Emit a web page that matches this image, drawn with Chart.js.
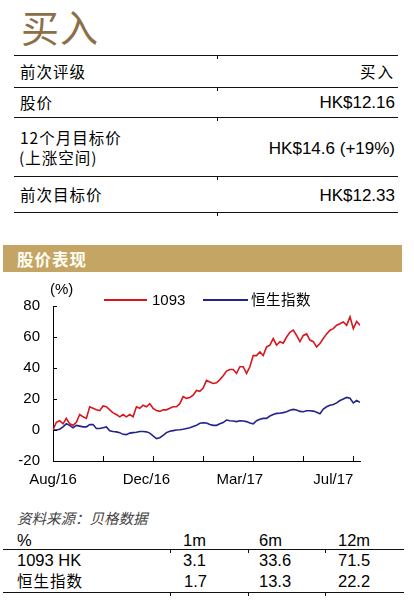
<!DOCTYPE html>
<html lang="zh">
<head>
<meta charset="UTF-8">
<meta name="viewport" content="width=device-width, initial-scale=1">
<title>买入</title>
<script src="https://cdn.jsdelivr.net/npm/chart.js"></script>
<style>
  body {
    margin: 0;
    width: 414px;
    height: 606px;
    position: relative;
    overflow: hidden;
    background: #fff;
    color: #000;
    font-family: "Liberation Sans", Arial, "Noto Sans CJK SC", sans-serif;
  }
  .t {
    position: absolute;
    white-space: nowrap;
    line-height: 1;
    transform: translateY(-50%);
  }
  .cn { font-family: "Noto Sans CJK SC", sans-serif; }
  .rule { position: absolute; height: 1px; background: #111; }
  .mark { position: absolute; width: 1px; height: 3px; background: #111; }
  .title { font-size: 38px; color: #8c6f47; font-weight: 400; letter-spacing: 1px; }
  .row { font-size: 15.5px; letter-spacing: 1px; }
  .num { font-size: 17px; }
  #banner {
    position: absolute; left: 3px; top: 245px; width: 399px; height: 27px;
    background: #c4a564;
  }
  #banner span {
    position: absolute; left: 14px; top: 13.5px; transform: translateY(-50%);
    font-family: "Noto Sans CJK SC", sans-serif; font-weight: 700; font-size: 16.5px;
    color: #fffdf4; letter-spacing: 1px; line-height: 1;
  }
  #chartBox { position: absolute; left: 0; top: 276px; width: 414px; height: 214px; }
  .leg { position: absolute; height: 2px; }
  .src { font-size: 14.5px; font-style: italic; color: #444; }
  .tb { font-size: 16.5px; }
</style>
</head>
<body>
  <!-- header -->
  <div class="t cn title" style="left:21px;top:26px">买入</div>

  <div class="rule" style="left:14px;top:55px;width:384px"></div>
  <div class="t cn row" style="left:20px;top:71.5px">前次评级</div>
  <div class="t cn row" style="right:19px;top:71.5px;letter-spacing:2px">买入</div>

  <div class="rule" style="left:14px;top:87px;width:384px"></div>
  <div class="t cn row" style="left:20px;top:102.5px">股价</div>
  <div class="t num" style="right:19px;top:102px">HK$12.16</div>

  <div class="rule" style="left:14px;top:117px;width:384px"></div>
  <div class="t cn row" style="left:20px;top:137.5px">12个月目标价</div>
  <div class="t cn row" style="left:19px;top:158px">(上涨空间)</div>
  <div class="t num" style="right:19px;top:147.5px">HK$14.6 (+19%)</div>

  <div class="rule" style="left:14px;top:176px;width:384px"></div>
  <div class="t cn row" style="left:20px;top:195px">前次目标价</div>
  <div class="t num" style="right:19px;top:195px">HK$12.33</div>

  <div class="rule" style="left:14px;top:212px;width:384px"></div>
  <div class="mark" style="left:217px;top:56px"></div>
  <div class="mark" style="left:217px;top:88px"></div>
  <div class="mark" style="left:217px;top:118px"></div>
  <div class="mark" style="left:217px;top:177px"></div>
  <div class="mark" style="left:217px;top:213px"></div>

  <!-- section banner -->
  <div id="banner"><span>股价表现</span></div>

  <!-- chart -->
  <div id="chartBox"><canvas id="perfChart"></canvas></div>
  <div class="t" style="left:50px;top:287.5px;font-size:15px">(%)</div>
  <div class="leg" style="left:104px;top:299px;width:43px;background:#d9161d"></div>
  <div class="t" style="left:152px;top:299px;font-size:15px">1093</div>
  <div class="leg" style="left:203px;top:299px;width:45px;background:#23238c"></div>
  <div class="t cn" style="left:251px;top:299px;font-size:14.5px;letter-spacing:0.5px">恒生指数</div>

  <!-- source + returns table -->
  <div class="t cn src" style="left:17px;top:518px">资料来源：贝格数据</div>

  <div class="t tb" style="left:17px;top:540px">%</div>
  <div class="t tb" style="left:183px;top:540px">1m</div>
  <div class="t tb" style="left:259px;top:540px">6m</div>
  <div class="t tb" style="left:338px;top:540px">12m</div>
  <div class="rule" style="left:3px;top:549px;width:401px"></div>
  <div class="t tb" style="left:17px;top:560px">1093 HK</div>
  <div class="t tb" style="left:183px;top:560px">3.1</div>
  <div class="t tb" style="left:259px;top:560px">33.6</div>
  <div class="t tb" style="left:338px;top:560px">71.5</div>
  <div class="t cn" style="left:17px;top:581px;font-size:15.5px;letter-spacing:1px">恒生指数</div>
  <div class="t tb" style="left:184px;top:581px">1.7</div>
  <div class="t tb" style="left:259px;top:581px">13.3</div>
  <div class="t tb" style="left:338px;top:581px">22.2</div>
  <div class="rule" style="left:3px;top:592px;width:401px"></div>
  <div class="mark" style="left:170px;top:550px"></div>
  <div class="mark" style="left:248px;top:550px"></div>
  <div class="mark" style="left:325px;top:550px"></div>
  <div class="mark" style="left:170px;top:593px"></div>
  <div class="mark" style="left:248px;top:593px"></div>
  <div class="mark" style="left:325px;top:593px"></div>

  <script>
    // x axis: sample index, Aug/16 .. Jul/17
    const xLabels = ['Aug/16', 'Dec/16', 'Mar/17', 'Jul/17'];
    const xLabelPos = [0, 28, 56, 84];
    const xMinorTicks = [15, 30, 45, 60, 75, 90];
    const xMax = 92;

    const yMin = -20, yMax = 80, yStep = 20;

    // relative performance (%)
    const perf1093 = [
      0, 5, 6, 4, 7.5, 4, 3, 5, 10, 8.5,
      7.5, 15, 14, 13, 12.5, 15.5, 15, 13, 11, 10,
      8.5, 10, 8.5, 10, 8.5, 15, 14, 16, 15, 17,
      14, 12.5, 12, 13, 13, 14, 15, 15, 17, 21.5,
      20.4, 21, 22.5, 25.5, 25, 27, 32, 31, 30, 30.5,
      32.5, 35, 38, 39, 39, 36.5, 40.8, 40.8, 36.5, 40.8,
      48, 48, 50.4, 48, 53.6, 54.7, 59, 54.7, 57, 56,
      60, 63, 64.4, 61, 57, 61, 62, 58, 57, 53.6,
      55.8, 59, 62, 64.4, 65.4, 67.6, 68.6, 69.7, 67.6, 73,
      65.4, 70, 67.6
    ];
    const perfHSI = [
      0, 0, 0.5, 2, 4, 3, 1.5, 3, 2.5, 2,
      2, 3.5, 3.5, 1, 1, 1.5, 2, -0.5, -1, -1.2,
      -1.7, -2.8, -3, -2, -1.7, -1.5, -1, -1, -1.2, -2,
      -3.8, -5.5, -5, -3.5, -1.7, -0.8, -0.4, 0, 0.2, 0.5,
      1, 1.5, 2.3, 3, 4.3, 4.7, 4.5, 3.5, 3, 3,
      4, 4.8, 6.4, 6, 5.8, 5.4, 6, 5.8, 5.4, 4.5,
      4, 6, 7, 7.5, 7.5, 9, 10, 10.7, 10.8, 11.2,
      11.8, 12.8, 13.3, 12.9, 12, 11.8, 12.4, 12.4, 12.2, 11.5,
      10.5, 13.5, 15, 16, 16.5, 17.5, 19, 20, 21, 20.5,
      17.5, 19, 17.8
    ];

    // Excel-style tick marks pointing into the plot
    const innerTicks = {
      id: 'innerTicks',
      afterDraw(c) {
        const { ctx, scales: { x, y } } = c;
        ctx.save();
        ctx.strokeStyle = '#000';
        ctx.lineWidth = 1;
        ctx.beginPath();
        y.ticks.forEach(t => {
          const py = Math.round(y.getPixelForValue(t.value)) + 0.5;
          ctx.moveTo(y.right, py);
          ctx.lineTo(y.right + 4, py);
        });
        xMinorTicks.forEach(v => {
          const px = Math.round(x.getPixelForValue(v)) + 0.5;
          ctx.moveTo(px, x.top);
          ctx.lineTo(px, x.top - 5);
        });
        ctx.stroke();
        ctx.restore();
      }
    };

    const toPoints = arr => arr.map((v, i) => ({ x: i, y: v }));

    new Chart(document.getElementById('perfChart'), {
      type: 'line',
      data: {
        datasets: [
          {
            label: '1093',
            data: toPoints(perf1093),
            borderColor: '#d9161d',
            borderWidth: 1.6,
            pointRadius: 0,
            tension: 0
          },
          {
            label: '恒生指数',
            data: toPoints(perfHSI),
            borderColor: '#23238c',
            borderWidth: 1.6,
            pointRadius: 0,
            tension: 0
          }
        ]
      },
      options: {
        responsive: true,
        maintainAspectRatio: false,
        animation: false,
        layout: { padding: { top: 30, right: 54, left: 0, bottom: 0 } },
        plugins: { legend: { display: false }, tooltip: { enabled: false } },
        scales: {
          x: {
            type: 'linear',
            min: 0,
            max: xMax,
            grid: { display: false },
            border: { display: true, color: '#000', width: 1 },
            afterBuildTicks: s => { s.ticks = xLabelPos.map(v => ({ value: v })); },
            afterFit: s => { s.height = 29; },
            ticks: {
              autoSkip: false,
              maxRotation: 0,
              padding: 2,
              color: '#000',
              font: { family: 'Liberation Sans', size: 15 },
              callback: v => xLabels[xLabelPos.indexOf(v)]
            }
          },
          y: {
            min: yMin,
            max: yMax,
            grid: { display: false },
            border: { display: true, color: '#000', width: 1 },
            afterFit: s => { s.width = 53; },
            ticks: {
              stepSize: yStep,
              padding: 5,
              color: '#000',
              font: { family: 'Liberation Sans', size: 15 }
            }
          }
        }
      },
      plugins: [innerTicks]
    });
  </script>
</body>
</html>
